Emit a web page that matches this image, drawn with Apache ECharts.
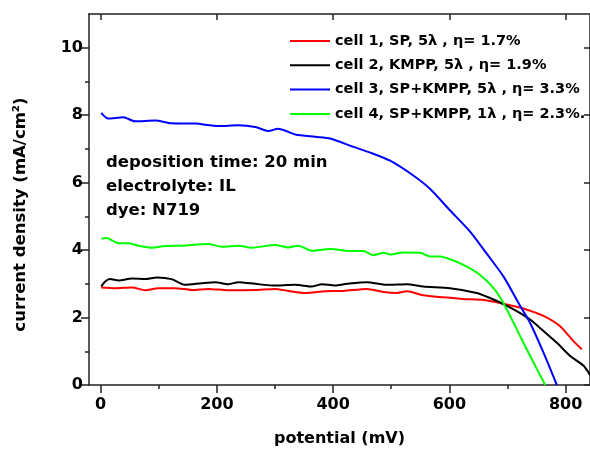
<!DOCTYPE html>
<html>
<head>
<meta charset="utf-8">
<script src="https://cdn.jsdelivr.net/npm/echarts@6/dist/echarts.min.js"></script>
<style>
	html, body { margin: 0; padding: 0; background: #fff; }
	#chart { width: 590px; height: 452px; }
</style>
</head>
<body>
<div id="chart"></div>
<script>
// series names
var seriesNames = [
	"cell 1, SP, 5\u03bb , \u03b7= 1.7%",
	"cell 2, KMPP, 5\u03bb , \u03b7= 1.9%",
	"cell 3, SP+KMPP, 5\u03bb , \u03b7= 3.3%",
	"cell 4, SP+KMPP, 1\u03bb , \u03b7= 2.3%."
];
var seriesColors = ["#ff0000", "#000000", "#0000ff", "#00ff00"];

// cell 1 (red)
var cell1Potential = [1, 25, 54, 77, 99, 128, 157, 185, 220, 266, 300, 323, 352, 386, 418, 458, 487, 510, 527, 555, 590, 624, 659, 693, 727, 762, 790, 813, 828];
var cell1Current = [2.89, 2.87, 2.89, 2.81, 2.87, 2.87, 2.82, 2.85, 2.81, 2.82, 2.85, 2.79, 2.73, 2.78, 2.79, 2.85, 2.76, 2.73, 2.78, 2.66, 2.60, 2.55, 2.52, 2.41, 2.27, 2.05, 1.75, 1.31, 1.06];

// cell 2 (black)
var cell2Potential = [1, 8, 16, 31, 54, 77, 97, 122, 145, 174, 197, 220, 237, 266, 295, 335, 363, 381, 403, 424, 458, 492, 527, 555, 601, 647, 670, 693, 716, 739, 762, 785, 808, 831, 842];
var cell2Current = [2.92, 3.07, 3.14, 3.10, 3.16, 3.14, 3.19, 3.14, 2.97, 3.02, 3.05, 2.99, 3.05, 3.00, 2.95, 2.97, 2.92, 2.99, 2.95, 3.00, 3.05, 2.97, 2.99, 2.92, 2.87, 2.73, 2.58, 2.40, 2.19, 1.94, 1.60, 1.25, 0.86, 0.57, 0.30];

// cell 3 (blue)
var cell3Potential = [1, 13, 39, 59, 94, 122, 163, 203, 237, 266, 289, 305, 335, 369, 395, 435, 464, 498, 538, 567, 601, 636, 664, 693, 722, 739, 762, 785];
var cell3Current = [8.07, 7.90, 7.94, 7.82, 7.84, 7.76, 7.75, 7.68, 7.70, 7.65, 7.53, 7.60, 7.43, 7.36, 7.31, 7.06, 6.89, 6.65, 6.21, 5.81, 5.18, 4.54, 3.90, 3.22, 2.34, 1.84, 0.96, 0];

// cell 4 (green)
var cell4Potential = [1, 11, 19, 31, 48, 65, 88, 111, 140, 185, 208, 237, 260, 300, 323, 340, 363, 395, 429, 452, 469, 487, 498, 521, 550, 567, 584, 607, 630, 653, 676, 693, 716, 739, 765];
var cell4Current = [4.34, 4.36, 4.29, 4.20, 4.20, 4.13, 4.07, 4.12, 4.13, 4.18, 4.10, 4.13, 4.07, 4.15, 4.08, 4.13, 3.98, 4.03, 3.97, 3.97, 3.85, 3.92, 3.87, 3.93, 3.92, 3.81, 3.81, 3.69, 3.51, 3.26, 2.87, 2.43, 1.65, 0.86, 0];

// ticks
var xMajorTicks = [0, 200, 400, 600, 800];
var xMinorTicks = [100, 300, 500, 700];
var yMajorTicks = [0, 2, 4, 6, 8, 10];
var yMinorTicks = [1, 3, 5, 7, 9];

var annotationLines = ["deposition time: 20 min", "electrolyte: IL", "dye: N719"];

var FONT = "DejaVu Sans";
var AXIS_COLOR = "#222";

function pairs(xs, ys){
	var out = [];
	for(var i = 0; i < xs.length; ++i){
		out.push([xs[i], ys[i]]);
	}
	return out;
}

var allData = [
	pairs(cell1Potential, cell1Current),
	pairs(cell2Potential, cell2Current),
	pairs(cell3Potential, cell3Current),
	pairs(cell4Potential, cell4Current)
];

var series = [];
for(var i = 0; i < allData.length; ++i){
	series.push({
		name : seriesNames[i],
		type : "line",
		xAxisIndex : 0,
		yAxisIndex : 0,
		data : allData[i],
		symbol : "none",
		smooth : 0.25,
		lineStyle : { color : seriesColors[i], width : 2 },
		itemStyle : { color : seriesColors[i] },
		z : 3 + i
	});
}

var X_MIN = -20, X_MAX = 842;
var Y_MIN = 0, Y_MAX = 11;

function lineOpt(show){
	return { show : show, onZero : false, lineStyle : { color : AXIS_COLOR, width : 1.5 } };
}

var labelStyle = { color : "#000", fontFamily : FONT, fontWeight : "bold", fontSize : 16 };

var annotation = [];
for(var i = 0; i < annotationLines.length; ++i){
	annotation.push({
		type : "text",
		left : 106,
		top : 154 + i * 24,
		style : {
			text : annotationLines[i],
			fill : "#000",
			font : "bold 16.5px '" + FONT + "'"
		},
		z : 10
	});
}

var option = {
	animation : false,
	backgroundColor : "#fff",
	grid : { left : 89, top : 14, right : 0, bottom : 64, containLabel : false },
	legend : {
		orient : "vertical",
		left : 285,
		top : 27,
		icon : "rect",
		itemWidth : 40,
		itemHeight : 2,
		itemGap : 6.3,
		data : seriesNames,
		textStyle : { color : "#000", fontFamily : FONT, fontWeight : "bold", fontSize : 14.5, lineHeight : 18 }
	},
	xAxis : [{
		type : "value", min : X_MIN, max : X_MAX, position : "bottom",
		axisLine : lineOpt(true),
		axisTick : { show : true, length : 8, inside : false, customValues : xMajorTicks, lineStyle : { color : AXIS_COLOR, width : 1.5 } },
		axisLabel : Object.assign({ customValues : xMajorTicks, margin : 12 }, labelStyle),
		splitLine : { show : false },
		name : "potential (mV)",
		nameLocation : "middle",
		nameGap : 46,
		nameTextStyle : { color : "#000", fontFamily : FONT, fontWeight : "bold", fontSize : 16 }
	},{
		type : "value", min : X_MIN, max : X_MAX, position : "bottom",
		axisLine : lineOpt(false),
		axisTick : { show : true, length : 4, inside : false, customValues : xMinorTicks, lineStyle : { color : AXIS_COLOR, width : 1.5 } },
		axisLabel : { show : false },
		splitLine : { show : false }
	},{
		type : "value", min : X_MIN, max : X_MAX, position : "top",
		axisLine : lineOpt(true),
		axisTick : { show : true, length : 6, inside : true, customValues : xMajorTicks, lineStyle : { color : AXIS_COLOR, width : 1.5 } },
		axisLabel : { show : false },
		splitLine : { show : false }
	}],
	yAxis : [{
		type : "value", min : Y_MIN, max : Y_MAX, position : "left",
		axisLine : lineOpt(true),
		axisTick : { show : true, length : 8, inside : false, customValues : yMajorTicks, lineStyle : { color : AXIS_COLOR, width : 1.5 } },
		axisLabel : Object.assign({ customValues : yMajorTicks, margin : 6 }, labelStyle),
		splitLine : { show : false },
		name : "current density (mA/cm\u00b2)",
		nameLocation : "middle",
		nameGap : 60,
		nameTextStyle : { color : "#000", fontFamily : FONT, fontWeight : "bold", fontSize : 16.5, padding : [0, 30, 0, 0] }
	},{
		type : "value", min : Y_MIN, max : Y_MAX, position : "left",
		axisLine : lineOpt(false),
		axisTick : { show : true, length : 4, inside : false, customValues : yMinorTicks, lineStyle : { color : AXIS_COLOR, width : 1.5 } },
		axisLabel : { show : false },
		splitLine : { show : false }
	},{
		type : "value", min : Y_MIN, max : Y_MAX, position : "right",
		axisLine : lineOpt(true),
		axisTick : { show : true, length : 6, inside : true, customValues : yMajorTicks, lineStyle : { color : AXIS_COLOR, width : 1.5 } },
		axisLabel : { show : false },
		splitLine : { show : false }
	}],
	graphic : annotation,
	series : series
};

var chart = echarts.init(document.getElementById("chart"), null, { renderer : "canvas" });
chart.setOption(option);
</script>
</body>
</html>
